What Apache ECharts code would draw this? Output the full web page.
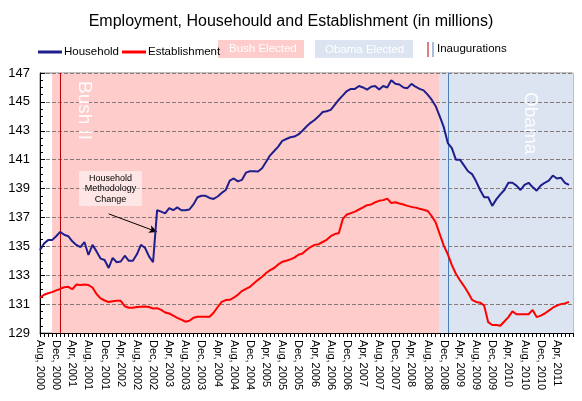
<!DOCTYPE html>
<html><head><meta charset="utf-8">
<script src="https://cdn.jsdelivr.net/npm/echarts@6/dist/echarts.min.js"></script>
<style>html,body{margin:0;padding:0;background:#fff}#c{width:582px;height:401px}</style>
</head><body><div id="c"></div>
<script>
// Category axis: monthly, Aug 2000 .. Aug 2011
const monthAbbr = ['Jan','Feb','Mar','Apr','May','Jun','Jul','Aug','Sep','Oct','Nov','Dec'];
const categories = [];
for (let i = 0; i < 133; i++) {
  const m = (7 + i) % 12, y = 2000 + Math.floor((7 + i) / 12);
  categories.push(monthAbbr[m] + ', ' + y);
}
const lastLabelledMonth = 'Apr, 2011';
const yTicks = [129, 131, 133, 135, 137, 139, 141, 143, 145, 147];

const household = [
134.74,135.2,135.43,135.43,135.7,136.0,135.8,135.7,135.35,135.1,
134.95,135.3,134.4,135.1,134.65,134.15,134.05,133.5,134.2,133.9,
133.95,134.35,134.0,134.0,134.45,135.1,134.9,134.3,133.9,137.51,
137.4,137.28,137.65,137.5,137.7,137.5,137.5,137.55,137.9,138.4,
138.5,138.5,138.35,138.28,138.45,138.7,138.9,139.55,139.7,139.5,
139.6,140.1,140.2,140.2,140.18,140.4,140.85,141.3,141.6,141.9,
142.3,142.43,142.55,142.6,142.75,143.0,143.3,143.55,143.75,144.0,
144.3,144.35,144.45,144.8,145.15,145.45,145.75,145.9,145.9,146.1,
146.0,145.85,146.05,146.1,145.85,146.1,146.0,146.5,146.25,146.2,
146.0,145.95,146.25,146.05,145.9,145.8,145.5,145.15,144.7,144.0,
143.25,142.15,141.8,141.0,141.0,140.6,140.2,140.0,139.5,138.9,
138.4,138.4,137.8,138.25,138.6,138.9,139.4,139.4,139.2,138.9,
139.25,139.4,139.1,138.85,139.2,139.4,139.55,139.9,139.7,139.75,
139.4,139.25];

const establishment = [
131.44,131.65,131.75,131.83,131.95,132.05,132.17,132.2,132.03,132.35,
132.33,132.36,132.32,132.15,131.7,131.4,131.25,131.15,131.2,131.23,
131.23,130.85,130.75,130.75,130.8,130.82,130.84,130.8,130.7,130.72,
130.6,130.42,130.35,130.2,130.05,129.93,129.78,129.85,130.05,130.13,
130.13,130.13,130.13,130.4,130.8,131.15,131.28,131.3,131.45,131.65,
131.9,132.05,132.2,132.45,132.68,132.9,133.15,133.35,133.5,133.75,
133.93,134.0,134.1,134.22,134.42,134.5,134.75,134.95,135.1,135.15,
135.3,135.45,135.7,135.85,135.9,136.9,137.2,137.3,137.4,137.55,
137.7,137.85,137.9,138.05,138.15,138.2,138.3,138.0,138.05,137.97,
137.9,137.8,137.73,137.68,137.6,137.53,137.45,137.1,136.65,135.85,
135.05,134.45,133.7,133.1,132.65,132.25,131.8,131.3,131.15,131.1,
130.9,129.75,129.55,129.55,129.5,129.8,130.1,130.5,130.3,130.3,
130.3,130.3,130.6,130.1,130.2,130.35,130.55,130.75,130.9,131.0,
131.05,131.15];

const bushElected = 'Nov, 2000', obamaElected = 'Nov, 2008', lastMonth = 'Aug, 2011';
const bushInaug = 'Jan, 2001', obamaInaug = 'Jan, 2009';
const lastLabelIdx = categories.indexOf(lastLabelledMonth);

const FONT = '"Liberation Sans", Arial, sans-serif';
const chart = echarts.init(document.getElementById('c'), null, {renderer: 'canvas'});
chart.setOption({
  animation: false,
  backgroundColor: '#ffffff',
  textStyle: {fontFamily: FONT},
  title: {
    text: 'Employment, Househould and Establishment (in millions)',
    left: 'center', top: 9,
    textStyle: {fontSize: 16, fontWeight: 'normal', color: '#000', fontFamily: FONT}
  },
  legend: {
    data: ['Household', 'Establishment'],
    left: 33, top: 41, itemGap: 3, itemWidth: 24, itemHeight: 3,
    icon: 'rect',
    textStyle: {fontSize: 11.5, color: '#000', fontFamily: FONT, padding: [0, 0, 0, -3]}
  },
  grid: {left: 40, right: 9, top: 73, bottom: 68, show: true, borderColor: '#808080', borderWidth: 1, backgroundColor: 'transparent'},
  xAxis: {
    type: 'category', data: categories, boundaryGap: false, z: 2,
    axisLine: {lineStyle: {color: '#000', width: 1}},
    axisTick: {show: true, interval: 0, length: 4, lineStyle: {color: '#000'}},
    axisLabel: {interval: (i) => i % 4 === 0 && i <= lastLabelIdx, rotate: -90, fontSize: 11, color: '#000', margin: 7, fontFamily: FONT},
    splitLine: {show: false}
  },
  yAxis: {
    type: 'value', min: yTicks[0], max: yTicks[yTicks.length - 1], interval: 2, z: 2,
    axisLine: {show: true, lineStyle: {color: '#000', width: 1}},
    axisTick: {show: true, inside: true, length: 5, lineStyle: {color: '#000'}},
    minorTick: {show: true, splitNumber: 4, length: 3, lineStyle: {color: '#000'}},
    axisLabel: {fontSize: 13, color: '#000', margin: 10, fontFamily: FONT},
    splitLine: {show: true, lineStyle: {color: '#857a7a', type: [4, 2], width: 1}}
  },
  series: [
    {
      name: 'bands', type: 'line', data: [], z: 0, zlevel: 0, silent: true,
      markArea: {
        silent: true, z: 0,
        data: [
          [{xAxis: bushElected, itemStyle: {color: '#ffcccc', opacity: 1}}, {xAxis: obamaElected}],
          [{xAxis: obamaElected, itemStyle: {color: '#dbe4f0', opacity: 1}}, {xAxis: lastMonth}]
        ]
      }
    },
    {
      name: 'Household', type: 'line', data: household, z: 4,
      showSymbol: false, symbol: 'none', color: '#1f1f8c',
      lineStyle: {width: 2, color: '#1f1f8c'},
      markLine: {
        silent: true, z: 3, symbol: ['none', 'none'], label: {show: false},
        data: [
          {xAxis: bushInaug, lineStyle: {color: '#c00000', width: 1, type: 'solid'}},
          {xAxis: obamaInaug, lineStyle: {color: '#4a7ebb', width: 1, type: 'solid'}},
          [{coord: [17, 137.25], lineStyle: {color: '#000', width: 1, type: 'solid'}, symbol: 'none'},
           {coord: [29, 136.0], symbol: 'arrow', symbolSize: [6, 8]}]
        ]
      }
    },
    {
      name: 'Establishment', type: 'line', data: establishment, z: 4,
      showSymbol: false, symbol: 'none', color: '#ff0000',
      lineStyle: {width: 2, color: '#ff0000'}
    }
  ],
  graphic: [
    {type: 'rect', left: 218, top: 40, shape: {width: 86, height: 18}, style: {fill: '#ffcccc'}},
    {type: 'text', left: 229, top: 43, style: {text: 'Bush Elected', fill: '#ffffff', font: '11.5px ' + FONT}},
    {type: 'rect', left: 315, top: 40, shape: {width: 98, height: 18}, style: {fill: '#dbe4f0'}},
    {type: 'text', left: 325, top: 44, style: {text: 'Obama Elected', fill: '#ffffff', font: '11.5px ' + FONT}},
    {type: 'line', shape: {x1: 428, y1: 42, x2: 428, y2: 57}, style: {stroke: '#c00000', lineWidth: 1}},
    {type: 'line', shape: {x1: 433, y1: 42, x2: 433, y2: 57}, style: {stroke: '#4a7ebb', lineWidth: 1}},
    {type: 'text', left: 437, top: 43, style: {text: 'Inaugurations', fill: '#000', font: '11.5px ' + FONT}},
    {type: 'text', x: 94, y: 81, rotation: -Math.PI / 2, z: 5,
     style: {text: 'Bush II', fill: 'rgba(255,255,255,0.92)', font: '19px ' + FONT}},
    {type: 'text', x: 540, y: 92, rotation: -Math.PI / 2, z: 5,
     style: {text: 'Obama', fill: 'rgba(255,255,255,0.92)', font: '19px ' + FONT}},
    {type: 'rect', left: 79, top: 171, z: 5, shape: {width: 63, height: 35}, style: {fill: 'rgba(255,255,255,0.5)'}},
    {type: 'text', x: 110.5, y: 173, z: 6,
     style: {text: 'Household\nMethodology\nChange', fill: '#000', font: '9px ' + FONT, align: 'center', lineHeight: 10.5}}
  ]
});
</script></body></html>
